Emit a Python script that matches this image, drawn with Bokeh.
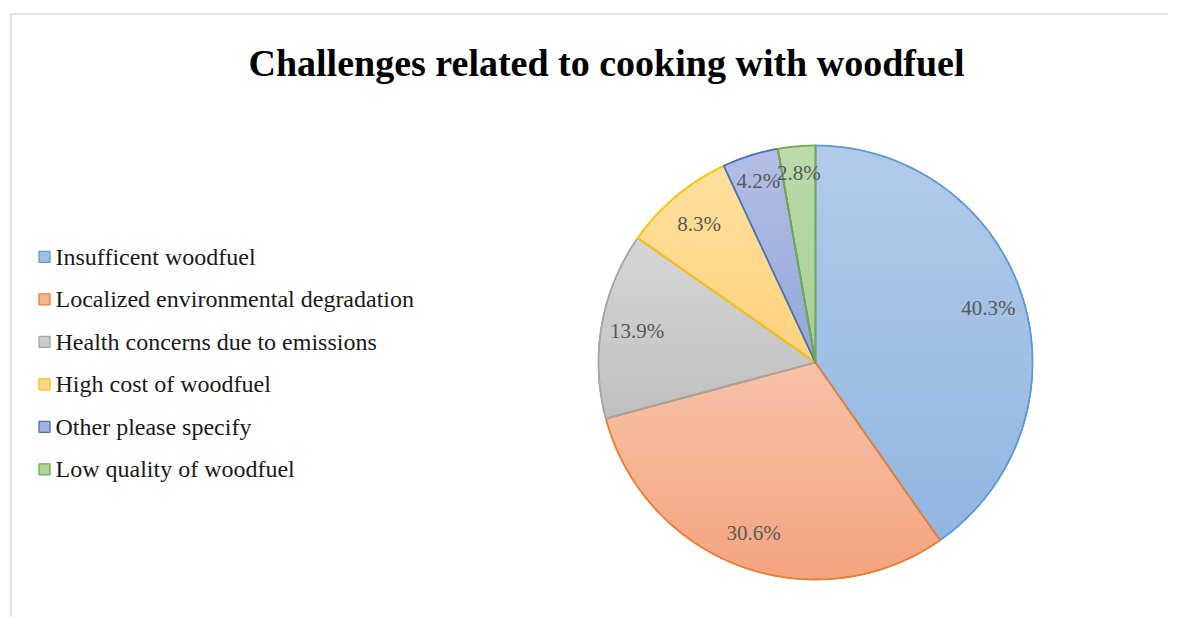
import numpy as np
from bokeh.plotting import figure
from bokeh.models import Range1d
from bokeh.core.properties import value
from bokeh.embed import file_html
from bokeh.resources import INLINE

# ---------------- data ----------------
title = "Challenges related to cooking with woodfuel"
categories = [
    "Insufficent woodfuel",
    "Localized environmental degradation",
    "Health concerns due to emissions",
    "High cost of woodfuel",
    "Other please specify",
    "Low quality of woodfuel",
]
counts = [29, 22, 10, 6, 3, 2]  # shares 40.3 / 30.6 / 13.9 / 8.3 / 4.2 / 2.8 %
edge_colors = ["#5B9BD5", "#ED7D31", "#A5A5A5", "#FFC000", "#4472C4", "#70AD47"]
top_colors = ["#B2CBEA", "#F8C2A8", "#D6D6D6", "#FFE09E", "#B3BFE5", "#BCDBAC"]
bottom_colors = ["#91B6E1", "#F4A47F", "#C0C0C0", "#FFD27C", "#93A6DA", "#A6CE92"]

# ---------------- layout ----------------
W, H = 1168, 617
p = figure(width=W, height=H, output_backend="svg", toolbar_location=None,
           x_range=Range1d(0, W), y_range=Range1d(H, 0),
           x_axis_location=None, y_axis_location=None, min_border=0)
p.grid.visible = False
p.outline_line_color = None
p.background_fill_color = "white"
p.border_fill_color = "white"

# chart area border (extends past the visible window on right/bottom)
p.quad(left=[10.5], right=[1300], top=[13.5], bottom=[800], fill_alpha=0,
       line_color="#D9D9D9", line_width=1.6)

# title
p.text(x=[606], y=[62], text=[title], text_align="center", text_baseline="middle",
       text_font=value("Liberation Serif"), text_font_style="bold",
       text_font_size="38px", text_color="#000000")

# ---------------- pie ----------------
cx, cy, R = 815.0, 362.0, 217.0
vals = np.array(counts, dtype=float)
frac = vals / vals.sum()
ends = np.cumsum(frac) * 2 * np.pi
starts = ends - frac * 2 * np.pi


def hex2rgb(h):
    h = h.lstrip("#")
    return np.array([int(h[i:i + 2], 16) for i in (0, 2, 4)], dtype=float)


def rgb2hex(c):
    c = np.clip(np.round(c), 0, 255).astype(int)
    return "#%02x%02x%02x" % tuple(c)


def wedge(a0, a1):
    n = max(4, int(np.degrees(a1 - a0) / 1.0) + 2)
    t = np.linspace(a0, a1, n)
    xs = [cx] + list(cx + R * np.sin(t))
    ys = [cy] + list(cy - R * np.cos(t))
    return xs, ys


def clip_below(xs, ys, yc):
    # keep part of polygon with y >= yc (screen-down)
    out_x, out_y = [], []
    n = len(xs)
    for i in range(n):
        x1, y1 = xs[i], ys[i]
        x2, y2 = xs[(i + 1) % n], ys[(i + 1) % n]
        in1, in2 = y1 >= yc, y2 >= yc
        if in1:
            out_x.append(x1); out_y.append(y1)
        if in1 != in2:
            t = (yc - y1) / (y2 - y1)
            out_x.append(x1 + t * (x2 - x1)); out_y.append(yc)
    return out_x, out_y


band_xs, band_ys, band_cols = [], [], []
out_xs, out_ys = [], []
NB = 40
for i in range(len(counts)):
    xs, ys = wedge(starts[i], ends[i])
    out_xs.append(xs); out_ys.append(ys)
    ymin, ymax = min(ys), max(ys)
    c0, c1 = hex2rgb(top_colors[i]), hex2rgb(bottom_colors[i])
    for k in range(NB):
        yk = ymin + k * (ymax - ymin) / NB
        bx, by = clip_below(xs, ys, yk)
        if len(bx) < 3:
            continue
        band_xs.append(bx); band_ys.append(by)
        band_cols.append(rgb2hex(c0 + (c1 - c0) * (k + 0.5) / NB))

p.patches(xs=band_xs, ys=band_ys, fill_color=band_cols, line_color=band_cols,
          line_width=0.6)
for i in range(len(counts)):
    p.patch(x=out_xs[i], y=out_ys[i], fill_alpha=0, line_color=edge_colors[i],
            line_width=1.8, line_join="round")

# data labels
mids = (starts + ends) / 2
lr = np.where(frac < 0.05, 0.875 * R, 0.835 * R)
lx = cx + lr * np.sin(mids)
ly = cy - lr * np.cos(mids)
labels = ["%.1f%%" % (f * 100) for f in frac]
p.text(x=list(lx), y=list(ly), text=labels, text_align="center", text_baseline="middle",
       text_font=value("Liberation Serif"), text_font_size="21px", text_color="#595959")

# ---------------- legend ----------------
ly0, dy = 256.3, 42.5
leg_y = [ly0 + i * dy for i in range(len(categories))]
leg_fill = [rgb2hex((hex2rgb(a) + hex2rgb(b)) / 2) for a, b in zip(top_colors, bottom_colors)]
p.rect(x=[44] * len(categories), y=leg_y, width=11, height=11, fill_color=leg_fill,
       line_color=edge_colors, line_width=1.3)
p.text(x=[55] * len(categories), y=leg_y, text=categories, text_align="left",
       text_baseline="middle", text_font=value("Liberation Serif"),
       text_font_size="24px", text_color="#1a1a1a")

open("out.html", "w").write(file_html(p, INLINE))
